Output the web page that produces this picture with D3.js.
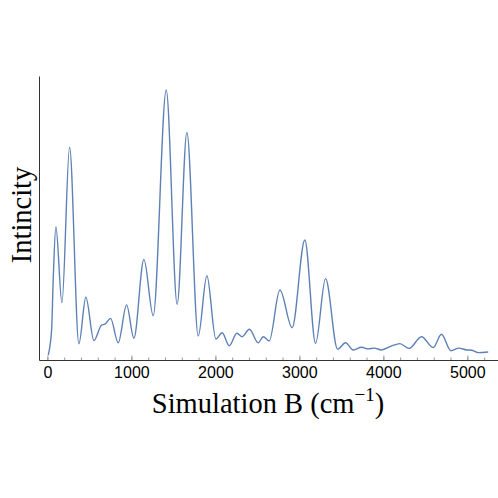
<!DOCTYPE html>
<html>
<head>
<meta charset="utf-8">
<script src="https://cdn.jsdelivr.net/npm/d3@7"></script>
<style>
  body { margin: 0; background: #fff; }
</style>
</head>
<body>
<div id="chart"></div>
<script>
// wavenumbers (cm-1) and relative intensity
var wavenumber = [10, 50, 69, 101, 173, 264, 375, 458, 554, 645, 685, 752, 843, 943, 1030,
  1149, 1260, 1415, 1545, 1661, 1796, 1899, 2006, 2081, 2165, 2256, 2319, 2405, 2510, 2570,
  2641, 2768, 2914, 3065, 3193, 3312, 3455, 3550, 3641, 3740, 3819, 3891, 3978, 4098, 4196,
  4307, 4455, 4593, 4692, 4804, 4899, 4990, 5050, 5129, 5248];
var intensity = [0, 9.4, 28.3, 48.4, 19.7, 78.4, 4.2, 21.8, 5.4, 11.3, 11.6, 13.8, 4.6, 18.9, 6.3,
  36.1, 14.8, 100, 19.1, 84.0, 7.2, 29.9, 6.0, 8.4, 3.5, 8.2, 6.9, 9.7, 4.6, 6.9,
  5.3, 24.5, 10.3, 43.4, 4.4, 28.8, 2.2, 4.6, 1.9, 2.9, 2.3, 2.6, 1.9, 3.4, 4.3,
  2.5, 6.9, 2.8, 7.8, 1.6, 2.6, 1.9, 1.8, 0.9, 1.1];
var majorTicks = [0, 1000, 2000, 3000, 4000, 5000];
var minorTicks = d3.range(0, 5400, 200);

var width = 498;
var height = 498;

var data = wavenumber.map(function(w, i) {
  return { x: w, y: intensity[i] };
});

var svg = d3
  .select("#chart")
  .append("svg")
  .attr("width", width)
  .attr("height", height);

var x = d3.scaleLinear().domain([-100, 5365]).range([39, 498]);
var y = d3.scaleLinear().domain([-1.9, 105.3]).range([360, 76]);

// minor ticks (inward)
svg
  .append("g")
  .attr("transform", "translate(0,360)")
  .call(d3.axisBottom(x).tickValues(minorTicks).tickSize(-2.5).tickFormat(""))
  .call(function(g) {
    g.select(".domain").remove();
    g.selectAll("line").attr("stroke", "#999");
  });

// major ticks + axis line
var xAxis = svg
  .append("g")
  .attr("transform", "translate(0,360)")
  .call(
    d3
      .axisBottom(x)
      .tickValues(majorTicks)
      .tickFormat(d3.format("d"))
      .tickSize(-4.5)
      .tickSizeOuter(0)
      .tickPadding(7)
  );
xAxis.select(".domain").attr("stroke", "#333").attr("stroke-width", 1);
xAxis.selectAll("line").attr("stroke", "#999");
xAxis
  .selectAll("text")
  .attr("fill", "#000")
  .style("font-family", "'Liberation Sans', Arial, sans-serif")
  .style("font-size", "16px");

svg
  .append("g")
  .attr("transform", "translate(39,0)")
  .call(d3.axisLeft(y).tickValues([]).tickSizeOuter(0))
  .select(".domain")
  .attr("stroke", "#333");

var line = d3
  .line()
  .x(function(d) { return x(d.x); })
  .y(function(d) { return y(d.y); })
  .curve(d3.curveMonotoneX);

svg
  .append("path")
  .datum(data)
  .attr("fill", "none")
  .attr("stroke", "#5e81b5")
  .attr("stroke-width", 1.4)
  .attr("d", line);

// axis titles
var xLabel = svg
  .append("text")
  .attr("x", 268)
  .attr("y", 413)
  .attr("text-anchor", "middle")
  .style("font-family", "'Liberation Serif', 'Times New Roman', serif")
  .style("font-size", "28.5px");
xLabel.append("tspan").text("Simulation B (cm");
xLabel.append("tspan").attr("dy", -12).style("font-size", "19px").text("\u22121");
xLabel.append("tspan").attr("dy", 12).text(")");

svg
  .append("text")
  .attr("transform", "translate(31,215) rotate(-90)")
  .attr("text-anchor", "middle")
  .style("font-family", "'Liberation Serif', 'Times New Roman', serif")
  .style("font-size", "28.5px")
  .text("Intincity");
</script>
</body>
</html>
